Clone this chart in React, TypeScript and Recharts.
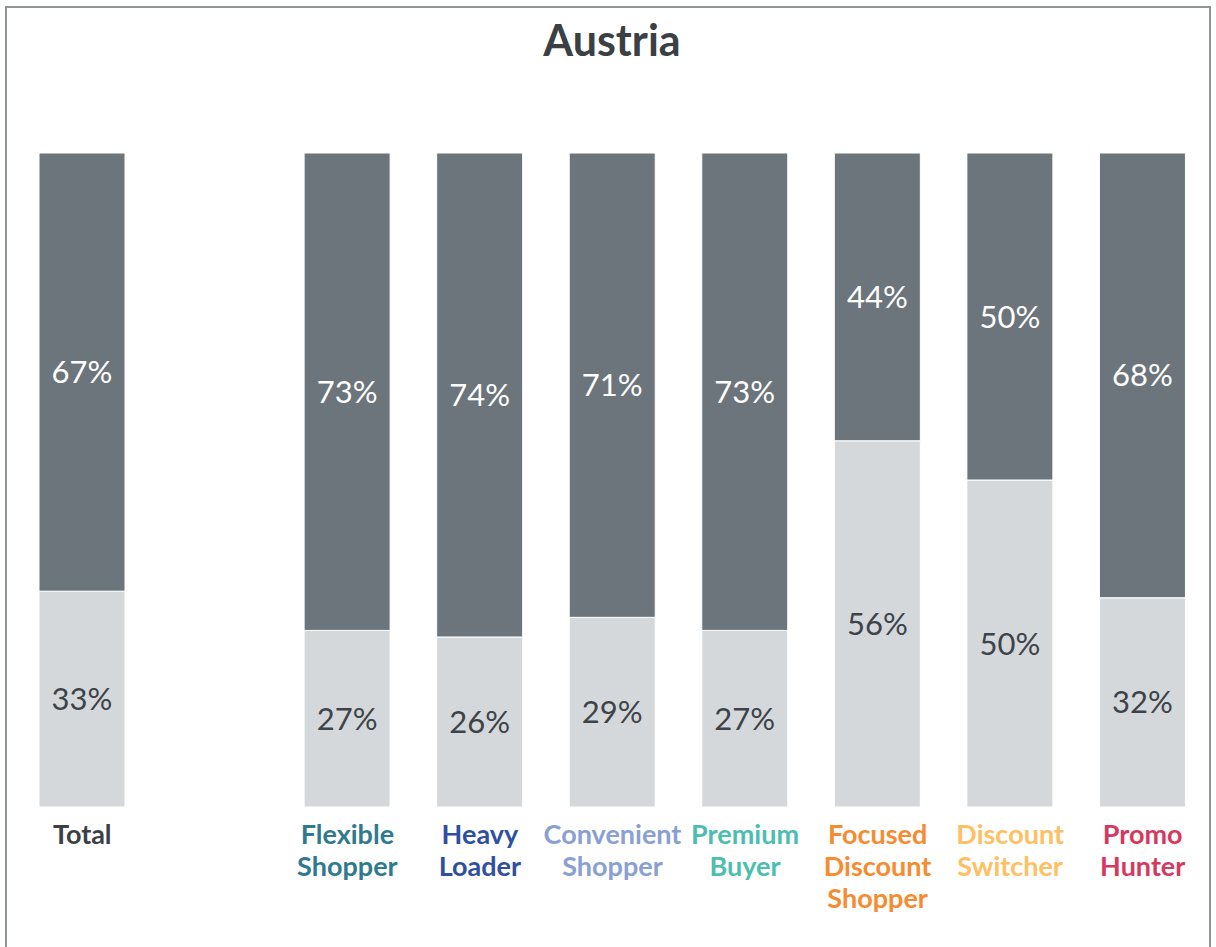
import React from 'react';
import { BarChart, Bar, XAxis, YAxis, LabelList } from 'recharts';

const categories = [
  'Total',
  '',
  'Flexible Shopper',
  'Heavy Loader',
  'Convenient Shopper',
  'Premium Buyer',
  'Focused Discount Shopper',
  'Discount Switcher',
  'Promo Hunter',
];
const tickLines: string[][] = [
  ['Total'],
  [],
  ['Flexible', 'Shopper'],
  ['Heavy', 'Loader'],
  ['Convenient', 'Shopper'],
  ['Premium', 'Buyer'],
  ['Focused', 'Discount', 'Shopper'],
  ['Discount', 'Switcher'],
  ['Promo', 'Hunter'],
];
const tickColors = ['#3b4045', '#3b4045', '#2f7a8f', '#2f4f9f', '#8a9fd2', '#4dbdb0', '#f68b2f', '#fec063', '#d6395f'];
const lowerValues = [33, null, 27, 26, 29, 27, 56, 50, 32];
const upperValues = [67, null, 73, 74, 71, 73, 44, 50, 68];

const data = categories.map((name, i) => ({
  name,
  lower: lowerValues[i],
  upper: upperValues[i],
}));

const FONT = 'Lato, "Noto Sans", sans-serif';

const CategoryTick = (props: any) => {
  const { x, y, payload } = props;
  const idx = payload.index;
  const lines = tickLines[idx] || [];
  return (
    <text
      x={x}
      y={y}
      textAnchor="middle"
      fill={tickColors[idx]}
      fontFamily={FONT}
      fontWeight={700}
      fontSize={27}
    >
      {lines.map((l, i) => (
        <tspan key={i} x={x} dy={i === 0 ? 29 : 32}>
          {l}
        </tspan>
      ))}
    </text>
  );
};

const pct = (v: any) => (v == null ? '' : `${v}%`);

export default function App() {
  return (
    <div style={{ position: 'absolute', left: 0, top: 0, width: 1216, height: 947, background: '#fff', overflow: 'hidden' }}>
      <div
        style={{
          position: 'absolute',
          left: 5,
          top: 6,
          width: 1202,
          height: 960,
          border: '2px solid #8d9397',
        }}
      />
      <div
        style={{
          position: 'absolute',
          left: 0,
          top: 14,
          width: 1224,
          textAlign: 'center',
          fontFamily: FONT,
          fontWeight: 700,
          fontSize: 43,
          color: '#3b4045',
          lineHeight: '52px',
        }}
      >
        Austria
      </div>
      <div style={{ position: 'absolute', left: 0, top: 0 }}>
        <BarChart
          width={1216}
          height={947}
          data={data}
          margin={{ top: 153, right: 7, bottom: 20, left: 16 }}
          barSize={86}
        >
          <XAxis
            dataKey="name"
            axisLine={false}
            tickLine={false}
            height={120}
            interval={0}
            tick={<CategoryTick />}
          />
          <YAxis hide domain={[0, 100]} />
          <Bar dataKey="lower" stackId="a" fill="#d5d8db" stroke="#ffffff" strokeWidth={1} isAnimationActive={false}>
            <LabelList dataKey="lower" position="center" formatter={pct} fill="#3d4348" fontFamily={FONT} fontSize={31} />
          </Bar>
          <Bar dataKey="upper" stackId="a" fill="#6b757b" stroke="#ffffff" strokeWidth={1} isAnimationActive={false}>
            <LabelList dataKey="upper" position="center" formatter={pct} fill="#ffffff" fontFamily={FONT} fontSize={31} />
          </Bar>
        </BarChart>
      </div>
    </div>
  );
}
